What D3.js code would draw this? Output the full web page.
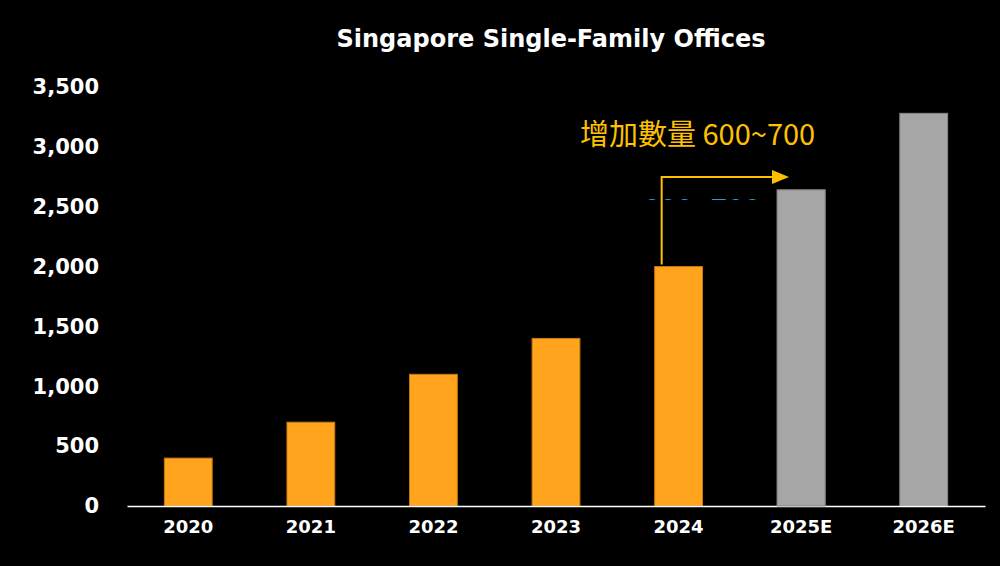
<!DOCTYPE html><html><head><meta charset="utf-8"><script src="https://cdn.jsdelivr.net/npm/d3@7"></script>
<style>body{margin:0;background:#000}</style></head><body><svg id="c" width="1000" height="566"></svg><script>
const categories=["2020","2021","2022","2023","2024","2025E","2026E"];
const values=[400,700,1100,1400,2000,2640,3280];
const estimated=[false,false,false,false,false,true,true];
const yTicks=[0,500,1000,1500,2000,2500,3000,3500];
const svg=d3.select("#c");
svg.append("rect").attr("width",1000).attr("height",566).attr("fill","#000");
const x=d3.scaleBand().domain(categories).range([127,985]).paddingInner(0.61).paddingOuter(0.305);
const y=d3.scaleLinear().domain([0,3500]).range([506,87]);
svg.append("text").attr("x",551).attr("y",47).attr("text-anchor","middle").attr("fill","#fff")
 .attr("font-family","Verdana, DejaVu Sans, sans-serif").attr("font-weight","bold").attr("font-size",24).text("Singapore Single-Family Offices");
const ya=svg.append("g").attr("transform","translate(102,0)").call(d3.axisLeft(y).tickValues(yTicks).tickFormat(d3.format(",")).tickSize(0));
ya.select(".domain").remove();
ya.selectAll("text").attr("fill","#fff").attr("font-family","Verdana, DejaVu Sans, sans-serif").attr("font-weight","bold").attr("font-size",21).attr("dx",0);
svg.selectAll(".bar").data(categories).join("rect").attr("x",d=>x(d)).attr("width",x.bandwidth())
 .attr("y",(d,i)=>y(values[i])).attr("height",(d,i)=>506-y(values[i]))
 .attr("fill",(d,i)=>estimated[i]?"#a6a6a6":"#ffa41c").attr("stroke",(d,i)=>estimated[i]?"#888":"#c77a10").attr("stroke-width",1);
const xa=svg.append("g").attr("transform","translate(0,506)").call(d3.axisBottom(x).tickSize(0));
xa.select(".domain").attr("stroke","#fff").attr("stroke-width",1.5);
xa.selectAll("text").attr("fill","#fff").attr("font-family","Verdana, DejaVu Sans, sans-serif").attr("font-weight","bold").attr("font-size",18).attr("dy","1.35em");
// hidden blue text artifact
svg.append("clipPath").attr("id","cl").append("rect").attr("x",600).attr("y",190).attr("width",220).attr("height",10);
svg.append("text").attr("clip-path","url(#cl)").attr("x",643).attr("y",219).attr("fill","#1ea0d8")
 .attr("font-family","Liberation Sans, Arial, sans-serif").attr("font-size",30).text("600~700");
// re-draw 2025E bar over artifact
const i5=5;
svg.append("rect").attr("x",x(categories[i5])).attr("width",x.bandwidth()).attr("y",y(values[i5])).attr("height",506-y(values[i5])).attr("fill","#a6a6a6").attr("stroke","#888");
svg.append("rect").attr("x",x(categories[i5])+1).attr("width",x.bandwidth()/3).attr("y",y(values[i5])+0.5).attr("height",4).attr("fill","#1ea0d8").attr("clip-path","url(#cl)").attr("opacity",0);
// annotation arrow
const ax=x("2024")+7, c="#ffc000";
svg.append("path").attr("d",`M${ax},${y(values[4])-2}V177H775`).attr("fill","none").attr("stroke",c).attr("stroke-width",2);
svg.append("path").attr("d","M772,170L789,177L772,184Z").attr("fill",c);
svg.append("text").attr("x",580).attr("y",145).attr("fill",c).attr("font-family","Noto Sans CJK TC, sans-serif").attr("font-size",29).text("增加數量 600~700");
</script></body></html>
